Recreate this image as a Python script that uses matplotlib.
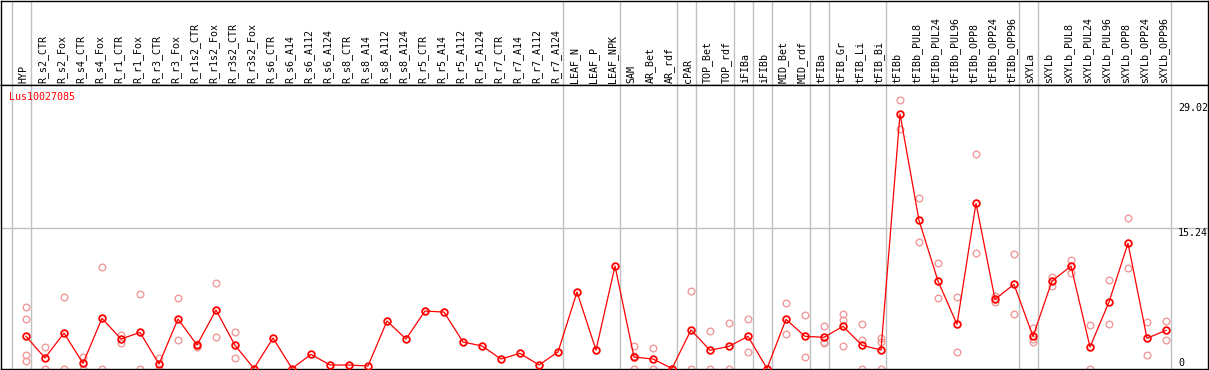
import matplotlib
matplotlib.use("Agg")
import matplotlib.pyplot as plt
from matplotlib.transforms import offset_copy

labels = ["HYP", "R_s2_CTR", "R_s2_Fox", "R_s4_CTR", "R_s4_Fox", "R_r1_CTR", "R_r1_Fox",
          "R_r3_CTR", "R_r3_Fox", "R_r1s2_CTR", "R_r1s2_Fox", "R_r3s2_CTR", "R_r3s2_Fox",
          "R_s6_CTR", "R_s6_A14", "R_s6_A112", "R_s6_A124", "R_s8_CTR", "R_s8_A14",
          "R_s8_A112", "R_s8_A124", "R_r5_CTR", "R_r5_A14", "R_r5_A112", "R_r5_A124",
          "R_r7_CTR", "R_r7_A14", "R_r7_A112", "R_r7_A124", "LEAF_N", "LEAF_P", "LEAF_NPK",
          "SAM", "AR_Bet", "AR_rdf", "cPAR", "TOP_Bet", "TOP_rdf", "iFIBa", "iFIBb",
          "MID_Bet", "MID_rdf", "tFIBa", "tFIB_Gr", "tFIB_Li", "tFIB_Bi", "tFIBb",
          "tFIBb_PUL8", "tFIBb_PUL24", "tFIBb_PUL96", "tFIBb_OPP8", "tFIBb_OPP24",
          "tFIBb_OPP96", "sXYLa", "sXYLb", "sXYLb_PUL8", "sXYLb_PUL24", "sXYLb_PUL96",
          "sXYLb_OPP8", "sXYLb_OPP24", "sXYLb_OPP96"]

means = [3.48, 1.14, 3.84, 0.56, 5.43, 3.19, 3.91, 0.48, 5.36, 2.54, 6.33, 2.51, 0.0,
         3.30, 0.0, 1.53, 0.38, 0.38, 0.27, 5.14, 3.19, 6.22, 6.11, 2.87, 2.44, 1.03,
         1.64, 0.38, 1.79, 8.28, 2.0, 11.09, 1.24, 1.03, 0.0, 4.17, 1.97, 2.4, 3.48, 0.0,
         5.32, 3.48, 3.38, 4.57, 2.51, 2.0, 27.55, 16.04, 9.47, 4.78, 17.88, 7.49, 9.11,
         3.48, 9.47, 11.09, 2.33, 7.2, 13.55, 3.27, 4.13]

replicates = [[6.62, 5.32, 1.43, 0.78], [2.33, 0], [7.70, 0], [1.28, 0], [10.99, 0],
              [3.63, 2.72], [8.03, 0], [1.17, 0], [7.6, 3.05], [2.6, 2.3], [9.22, 3.38],
              [3.92, 1.1],
              [], [], [], [], [], [], [], [], [], [], [], [], [], [], [], [], [], [], [], [],
              [2.4, 1.3, 0], [2.18, 0], [0, 0], [8.35, 0], [4.06, 0], [4.89, 0],
              [5.32, 1.75], [0, 0], [7.05, 3.7], [5.75, 1.21], [4.57, 2.84, 2.72],
              [5.9, 5.25, 2.47], [4.78, 3.05, 0], [3.33, 2.84, 0], [29.02, 25.89],
              [18.45, 13.66], [11.42, 7.6], [7.7, 1.75], [23.18, 12.5], [7.85, 7.2],
              [12.39, 5.9], [4.42, 3.16, 2.84], [9.94, 8.9], [11.74, 10.34], [4.67, 0],
              [9.54, 4.82], [16.29, 10.88], [5.0, 1.43], [5.1, 3.05]]

separators_after = [-1, 0, 28, 31, 34, 35, 37, 38, 39, 41, 42, 45, 52, 53, 60]
gene = "Lus10027085"
ymax_label = "29.02"
ymid_value = 15.24

W, H = 1209, 370
fig = plt.figure(figsize=(W / 100, H / 100), dpi=100)
fig.patch.set_facecolor("white")

def fx(px):
    return px / W

def fy(py):
    return 1 - py / H

x0, x1 = 1, 1208
xstep, xfirst = 19.0, 26.0
xlim = ((x0 - xfirst) / xstep, (x1 - xfirst) / xstep)
y_zero, y_scale = 368.5, 9.239
ptop, pbot = 85, 369
ylim = ((y_zero - pbot) / y_scale, (y_zero - ptop) / y_scale)

hdr = fig.add_axes([fx(x0), fy(ptop), fx(x1 - x0), (ptop - 0.6) / H])
ax = fig.add_axes([fx(x0), fy(pbot), fx(x1 - x0), (pbot - ptop) / H])

for a in (hdr, ax):
    a.set_xlim(*xlim)
    a.set_xticks([])
    a.set_yticks([])
    for s in a.spines.values():
        s.set_color("black")
        s.set_linewidth(1.0)
    for c in separators_after:
        a.axvline(c + 0.25, color="#c0c0c0", lw=1.0, zorder=0)

hdr.set_ylim(0, 1)
ax.set_ylim(*ylim)
ax.axhline(ymid_value, color="#c0c0c0", lw=1.0, zorder=0)

mono = "DejaVu Sans Mono"
fs = 7.2
tr = offset_copy(hdr.transData, fig=fig, x=-2.5, y=2.0, units="dots")
for i, lab in enumerate(labels):
    hdr.text(i, 0, lab, rotation=90, ha="center", va="bottom", transform=tr,
             family=mono, fontsize=fs, color="black")

xs = list(range(len(labels)))
for i, reps in enumerate(replicates):
    if reps:
        ax.plot([i] * len(reps), reps, linestyle="none", marker="o", ms=4.8,
                mfc="none", mec="#f09a9a", mew=1.0, zorder=2)
ax.plot(xs, means, color="red", lw=0.9, marker="o", ms=4.8, mfc="none",
        mec="red", mew=1.3, zorder=3)

fig.text(fx(9), fy(96.5), gene, color="red", family=mono, fontsize=fs,
         ha="left", va="center")
fig.text(fx(1178), fy(108), ymax_label, color="black", family=mono, fontsize=fs,
         ha="left", va="center")
fig.text(fx(1178), fy(232.5), f"{ymid_value:.2f}", color="black", family=mono,
         fontsize=fs, ha="left", va="center")
fig.text(fx(1178), fy(362.5), "0", color="black", family=mono, fontsize=fs,
         ha="left", va="center")

fig.savefig("out.png", dpi=100, facecolor="white")
